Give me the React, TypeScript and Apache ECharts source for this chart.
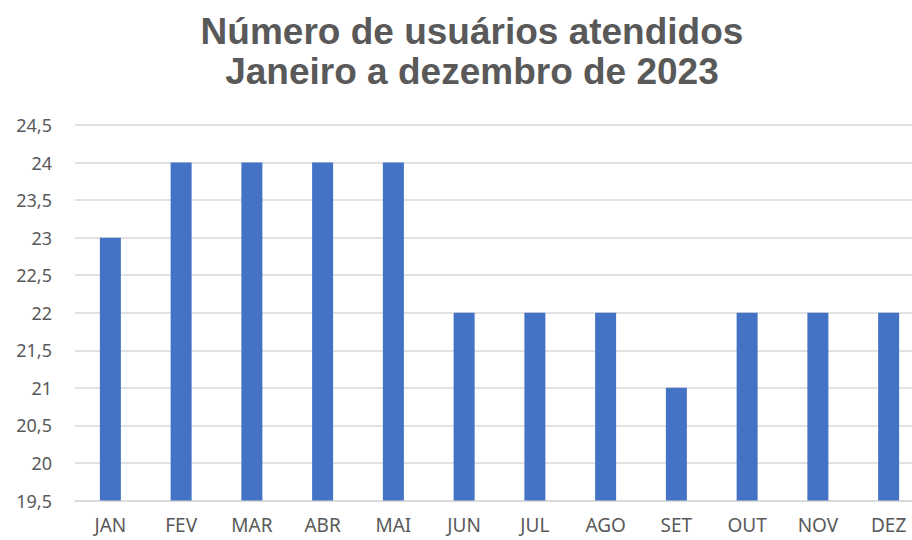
import React, { useEffect, useRef } from "react";
import * as echarts from "echarts";

const categories = ["JAN", "FEV", "MAR", "ABR", "MAI", "JUN", "JUL", "AGO", "SET", "OUT", "NOV", "DEZ"];
const values = [23, 24, 24, 24, 24, 22, 22, 22, 21, 22, 22, 22];
const titleLines = ["Número de usuários atendidos", "Janeiro a dezembro de 2023"];

export default function App() {
  const ref = useRef<HTMLDivElement>(null);
  useEffect(() => {
    document.body.style.margin = "0";
    document.body.style.overflow = "hidden";
    const chart = echarts.init(ref.current!, undefined, { renderer: "svg" });
    chart.setOption({
      animation: false,
      backgroundColor: "#ffffff",
      title: {
        text: titleLines.join("\n"),
        left: 467,
        top: 6,
        textAlign: "center",
        textStyle: {
          fontFamily: "Liberation Sans, Arial, sans-serif",
          fontWeight: "bold",
          fontSize: 37,
          lineHeight: 40,
          color: "#595959",
        },
      },
      grid: { left: 75, right: 0, top: 125, bottom: 39.5 },
      xAxis: {
        type: "category",
        data: categories,
        axisTick: { show: false },
        axisLine: { lineStyle: { color: "#D9D9D9", width: 1.5 } },
        axisLabel: {
          color: "#595959",
          fontFamily: "Noto Sans, sans-serif",
          fontSize: 19,
          lineHeight: 19,
          margin: 15,
        },
      },
      yAxis: {
        type: "value",
        min: 19.5,
        max: 24.5,
        interval: 0.5,
        axisLine: { show: false },
        axisTick: { show: false },
        splitLine: { lineStyle: { color: "#D9D9D9", width: 1.5 } },
        axisLabel: {
          color: "#595959",
          fontFamily: "Noto Sans, sans-serif",
          fontSize: 18,
          margin: 23,
          formatter: (v: number) => String(v).replace(".", ","),
        },
      },
      series: [
        {
          type: "bar",
          data: values,
          barWidth: 21,
          itemStyle: { color: "#4472C4" },
        },
      ],
    });
    return () => chart.dispose();
  }, []);
  return <div ref={ref} style={{ width: 924, height: 540 }} />;
}
